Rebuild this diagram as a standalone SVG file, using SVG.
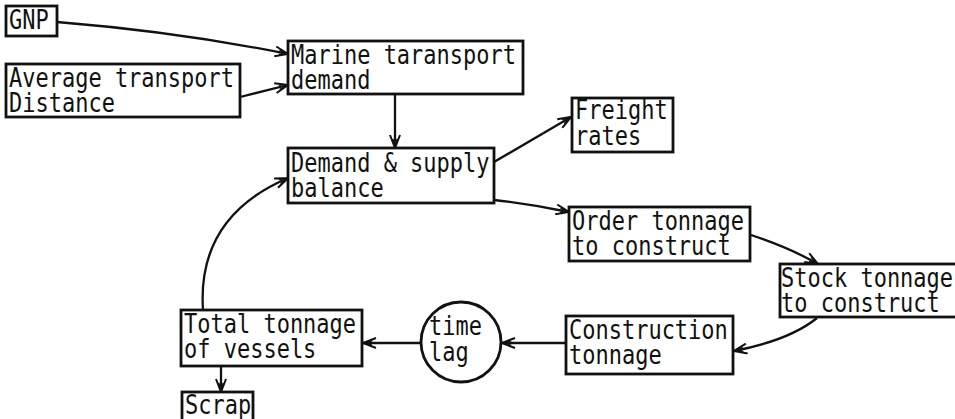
<svg xmlns="http://www.w3.org/2000/svg" width="955" height="419" viewBox="0 0 955 419">
<style>
  .box { fill: #fff; stroke: #111; stroke-width: 2.8; }
  .lbl { font-family: "DejaVu Sans Mono", "Liberation Mono", monospace; font-size: 22px; fill: #111; }
  .conn { fill: none; stroke: #111; stroke-width: 2.3; marker-end: url(#arr); }
</style>
<defs>
  <marker id="arr" markerUnits="userSpaceOnUse" markerWidth="16" markerHeight="12" refX="14" refY="6" orient="auto">
    <path d="M1,1 L14,6 L1,11 M5,3.5 L14,6 L5,8.5" fill="none" stroke="#111" stroke-width="2"/>
  </marker>
</defs>
<rect width="955" height="419" fill="#fff"/>
<g id="connectors">
  <path class="conn" d="M57,22 Q180,32 288,54"/>
  <path class="conn" d="M240,97 L288,85"/>
  <path class="conn" d="M395,94 L395,148"/>
  <path class="conn" d="M494,162 L571,117"/>
  <path class="conn" d="M494,200 Q530,204 569,212"/>
  <path class="conn" d="M751,235 Q790,248 818,264"/>
  <path class="conn" d="M817,318 Q790,340 734,351"/>
  <path class="conn" d="M566,343 L502,343"/>
  <path class="conn" d="M421,343 L363,343"/>
  <path class="conn" d="M203,310 C199,250 225,205 288,178"/>
  <path class="conn" d="M221,366 L221,392"/>
</g>
<g id="gnp">
  <rect class="box" x="6" y="6" width="51" height="30"/>
  <text class="lbl" x="9" y="29" transform="matrix(1 0 0 1.2 0 -5.8)">GNP</text>
</g>
<g id="distance">
  <rect class="box" x="6" y="64" width="234" height="53"/>
  <text class="lbl" x="9" y="87" transform="matrix(1 0 0 1.2 0 -17.4)">Average transport</text>
  <text class="lbl" x="9" y="112" transform="matrix(1 0 0 1.2 0 -22.4)">Distance</text>
</g>
<g id="marine">
  <rect class="box" x="288" y="41" width="235" height="53"/>
  <text class="lbl" x="291" y="64" transform="matrix(1 0 0 1.2 0 -12.8)">Marine taransport</text>
  <text class="lbl" x="291" y="89" transform="matrix(1 0 0 1.2 0 -17.8)">demand</text>
</g>
<g id="balance">
  <rect class="box" x="288" y="148" width="206" height="55"/>
  <text class="lbl" x="291" y="172" transform="matrix(1 0 0 1.2 0 -34.4)">Demand &amp; supply</text>
  <text class="lbl" x="291" y="197" transform="matrix(1 0 0 1.2 0 -39.4)">balance</text>
</g>
<g id="freight">
  <rect class="box" x="572" y="98" width="101" height="54"/>
  <text class="lbl" x="575" y="119" transform="matrix(1 0 0 1.2 0 -23.8)">Freight</text>
  <text class="lbl" x="575" y="145" transform="matrix(1 0 0 1.2 0 -29)">rates</text>
</g>
<g id="order">
  <rect class="box" x="569" y="207" width="181" height="54"/>
  <text class="lbl" x="572" y="230" transform="matrix(1 0 0 1.2 0 -46)">Order tonnage</text>
  <text class="lbl" x="572" y="255" transform="matrix(1 0 0 1.2 0 -51)">to construct</text>
</g>
<g id="stock">
  <rect class="box" x="780" y="264" width="190" height="53"/>
  <text class="lbl" x="781" y="287" transform="matrix(1 0 0 1.2 0 -57.4)">Stock tonnage</text>
  <text class="lbl" x="781" y="312" transform="matrix(1 0 0 1.2 0 -62.4)">to construct</text>
</g>
<g id="construction">
  <rect class="box" x="566" y="316" width="167" height="58"/>
  <text class="lbl" x="569" y="339" transform="matrix(1 0 0 1.2 0 -67.8)">Construction</text>
  <text class="lbl" x="569" y="364" transform="matrix(1 0 0 1.2 0 -72.8)">tonnage</text>
</g>
<g id="timelag">
  <circle class="box" cx="461" cy="342" r="40"/>
  <text class="lbl" x="429" y="335" transform="matrix(1 0 0 1.2 0 -67)">time</text>
  <text class="lbl" x="429" y="361" transform="matrix(1 0 0 1.2 0 -72.2)">lag</text>
</g>
<g id="total">
  <rect class="box" x="181" y="310" width="181" height="56"/>
  <text class="lbl" x="184" y="333" transform="matrix(1 0 0 1.2 0 -66.6)">Total tonnage</text>
  <text class="lbl" x="184" y="358" transform="matrix(1 0 0 1.2 0 -71.6)">of vessels</text>
</g>
<g id="scrap">
  <rect class="box" x="182" y="392" width="71" height="32"/>
  <text class="lbl" x="185" y="414" transform="matrix(1 0 0 1.2 0 -82.8)">Scrap</text>
</g>
</svg>
